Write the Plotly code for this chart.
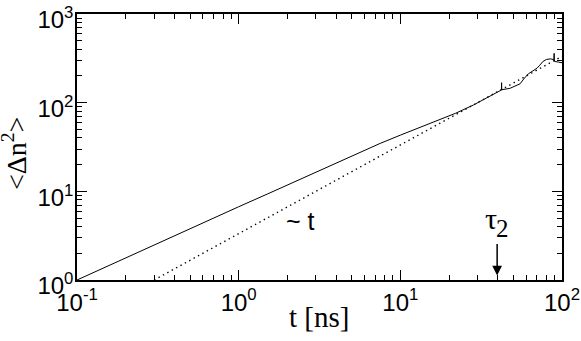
import plotly.graph_objects as go
import math

# Data
t_solid = [0.1, 0.15, 0.2, 0.3, 0.5, 0.7, 1.0, 1.5, 2.0, 3.0, 4.0, 5.0, 6.0, 7.5, 10.0, 13.0,
           17.6, 22.0, 28.3, 35.8, 41.0, 42.2, 42.3, 42.4, 47.6, 52.0, 55.0, 58.0, 62.0, 66.0,
           70.0, 73.0, 76.0, 80.0, 85.0, 89.0, 89.4, 89.8, 95.0, 100.0]
msd_solid = [1.0, 1.4, 1.78, 2.5, 3.8, 5.0, 6.7, 9.3, 11.8, 16.5, 20.9, 24.8, 29.0, 34.7, 43.0, 52.0,
             63.7, 76.0, 94.0, 117.0, 133.0, 139.0, 168.0, 140.0, 145.0, 155.0, 163.0, 185.0, 212.0, 228.0,
             245.0, 265.0, 290.0, 307.0, 312.0, 305.0, 360.0, 292.0, 287.0, 282.0]

t_dotted = [0.3, 100.0]
msd_dotted = [1.0, 333.0]

x_tickvals = [0.1, 1, 10, 100]
x_ticktext = ["10<sup>-1</sup>", "10<sup>0</sup>", "10<sup>1</sup>", "10<sup>2</sup>"]
y_tickvals = [1, 10, 100, 1000]
y_ticktext = ["10<sup>0</sup>", "10<sup>1</sup>", "10<sup>2</sup>", "10<sup>3</sup>"]

x_minor = [m * 10 ** e for e in (-1, 0, 1) for m in range(2, 10)]
y_minor = [m * 10 ** e for e in (0, 1, 2) for m in range(2, 10)]

tau2 = 39.7

fig = go.Figure()
fig.add_trace(go.Scatter(x=t_solid, y=msd_solid, mode="lines",
                         line=dict(color="black", width=1), showlegend=False))
fig.add_trace(go.Scatter(x=t_dotted, y=msd_dotted, mode="lines",
                         line=dict(color="black", width=1.4, dash="1.4px,3.6px"), showlegend=False))

sans = "Liberation Sans, Arial, Helvetica, sans-serif"
serif = "Liberation Serif, Times New Roman, serif"

axis_common = dict(
    type="log", showgrid=False, zeroline=False, showline=True, linecolor="black", linewidth=1.5,
    ticks="inside", ticklen=10, tickwidth=1, tickcolor="black", mirror="ticks",
    tickfont=dict(family=sans, size=24, color="black"), ticklabeloverflow="allow",
    automargin=False,
)

fig.update_xaxes(range=[-1, 2], tickmode="array", tickvals=x_tickvals, ticktext=x_ticktext,
                 minor=dict(tickmode="array", tickvals=x_minor, ticks="inside", ticklen=5,
                            tickwidth=1, tickcolor="black", showgrid=False),
                 **axis_common)
fig.update_yaxes(range=[0, 3], tickmode="array", tickvals=y_tickvals, ticktext=y_ticktext,
                 minor=dict(tickmode="array", tickvals=y_minor, ticks="inside", ticklen=5,
                            tickwidth=1, tickcolor="black", showgrid=False),
                 ticklabelstandoff=-3, ticklabelshift=6,
                 **axis_common)

fig.update_layout(
    width=581, height=341,
    margin=dict(l=77, r=19, t=14, b=61),
    plot_bgcolor="white", paper_bgcolor="white",
    annotations=[
        dict(text="t [ns]", xref="paper", yref="paper", x=0.499, y=-0.139,
             xanchor="center", yanchor="middle", showarrow=False,
             font=dict(family=serif, size=29, color="black")),
        dict(text="&lt;Δn<sup>2</sup>&gt;", xref="paper", yref="paper", x=-0.129, y=0.475,
             xanchor="center", yanchor="middle", showarrow=False, textangle=-90,
             font=dict(family=serif, size=28, color="black")),
        dict(text="~ t", xref="x", yref="y", x=0.385, y=0.66,
             xanchor="center", yanchor="middle", showarrow=False,
             font=dict(family=sans, size=25, color="black")),
        dict(text="τ", xref="x", yref="y", x=1.563, y=0.69,
             xanchor="center", yanchor="middle", showarrow=False,
             font=dict(family=serif, size=30, color="black")),
        dict(text="2", xref="x", yref="y", x=1.634, y=0.586,
             xanchor="center", yanchor="middle", showarrow=False,
             font=dict(family=serif, size=25, color="black")),
        dict(text="", xref="x", yref="y", x=math.log10(tau2), y=0.05,
             ax=0, ay=-33, showarrow=True, arrowhead=2, arrowsize=1.3, arrowwidth=1.5,
             arrowcolor="black"),
    ],
)

fig.write_html("out.html", config={"displayModeBar": False},
               post_script="document.body.style.margin='0';document.body.style.overflow='hidden';")
